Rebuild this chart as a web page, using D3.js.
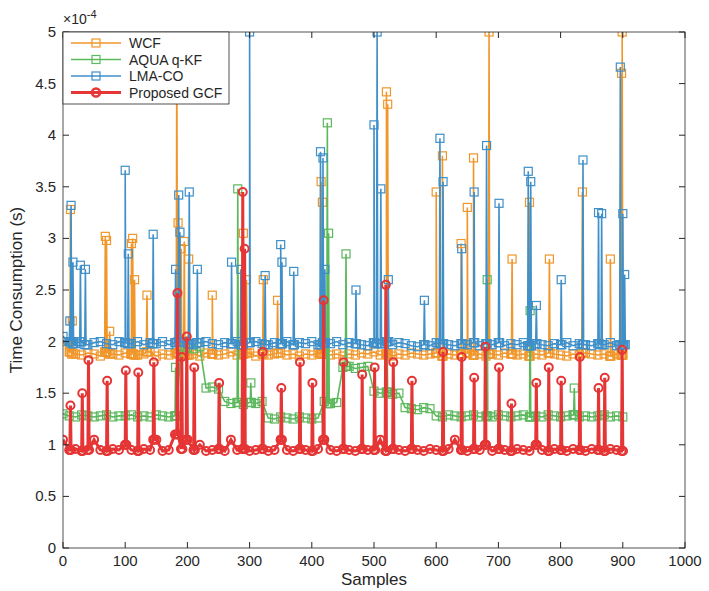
<!DOCTYPE html>
<html><head><meta charset="utf-8">
<script src="https://cdn.jsdelivr.net/npm/d3@7"></script>
<style>body{margin:0;background:#fff;font-family:"Liberation Sans",Arial,sans-serif}</style>
</head><body>
<script>
// baselines sampled every 10 samples (0..900), values in 1e-4 s
var wcfBase = [2.0,1.9,1.88,1.87,1.89,1.88,1.86,1.9,1.88,1.87,1.89,1.88,1.87,1.88,1.9,1.86,1.88,1.87,1.89,1.88,1.87,1.88,1.86,1.89,1.88,1.87,1.88,1.9,1.87,1.88,1.89,1.86,1.88,1.87,1.88,1.89,1.87,1.88,1.86,1.88,1.87,1.89,1.88,1.87,1.88,1.86,1.88,1.87,1.89,1.88,1.9,1.87,1.88,1.86,1.88,1.87,1.89,1.88,1.87,1.88,1.89,1.86,1.88,1.87,1.88,1.89,1.87,1.88,1.86,1.88,1.87,1.89,1.88,1.87,1.88,1.86,1.88,1.87,1.89,1.88,1.87,1.86,1.88,1.87,1.89,1.88,1.87,1.88,1.86,1.88,1.87];
var aquaBase = [1.3,1.28,1.27,1.29,1.28,1.27,1.28,1.29,1.27,1.28,1.28,1.29,1.27,1.28,1.27,1.29,1.28,1.27,1.28,1.95,1.94,1.93,1.95,1.55,1.56,1.54,1.42,1.4,1.41,1.39,1.41,1.4,1.42,1.26,1.25,1.27,1.26,1.25,1.27,1.26,1.25,1.26,1.42,1.4,1.41,1.75,1.76,1.74,1.75,1.76,1.52,1.5,1.51,1.49,1.5,1.36,1.35,1.34,1.36,1.35,1.28,1.27,1.29,1.28,1.27,1.28,1.29,1.27,1.28,1.27,1.29,1.28,1.27,1.28,1.29,1.27,1.28,1.27,1.29,1.28,1.27,1.28,1.29,1.27,1.28,1.27,1.28,1.29,1.27,1.28,1.27];
var lmaBase = [2.05,2.0,1.98,2.0,1.97,1.99,2.0,1.98,1.97,2.0,1.99,1.98,2.0,1.97,1.99,1.98,2.0,1.97,1.99,2.0,1.98,1.97,1.99,2.0,1.98,1.97,1.99,1.98,2.0,1.97,1.99,2.0,1.98,1.97,1.99,1.98,2.0,1.97,1.99,1.98,2.0,1.97,1.99,1.98,2.0,1.97,1.99,1.98,1.97,1.96,1.99,1.98,2.0,1.97,1.99,1.98,1.96,1.95,1.97,1.96,1.99,1.98,1.97,1.96,1.98,1.97,1.99,1.96,1.98,1.97,1.99,1.96,1.98,1.97,1.99,1.96,1.98,1.97,1.96,1.98,1.97,1.99,1.96,1.98,1.97,1.96,1.98,1.97,1.99,1.96,1.97];
var gcfBase = [1.05,0.95,0.96,0.94,0.95,1.05,0.95,0.94,0.96,0.95,1.0,0.95,0.94,0.96,0.95,1.05,0.94,0.95,1.1,0.96,1.05,0.95,1.0,0.94,0.95,0.96,0.94,1.05,0.95,0.96,0.94,0.95,0.96,0.94,0.95,1.05,0.95,0.94,0.96,0.95,0.94,0.96,1.05,0.95,0.94,0.96,0.95,0.94,0.96,0.95,0.95,1.05,0.94,0.96,0.95,0.94,0.96,0.95,0.94,0.96,0.95,0.94,0.96,1.05,0.95,0.94,0.96,0.95,1.0,0.94,0.96,0.95,0.94,0.96,0.95,0.94,1.0,0.95,0.94,0.96,0.95,0.94,0.96,0.95,0.94,0.96,0.95,0.94,0.96,0.95,0.94];
// spikes: [sample, value]
var wcfSpikes = [[12,3.28],[15,2.2],[68,3.02],[70,2.98],[75,2.1],[110,2.95],[112,3.0],[115,2.6],[135,2.45],[183,5.0],[185,3.15],[190,2.9],[195,2.97],[202,2.8],[240,2.45],[290,3.05],[295,2.6],[322,2.6],[345,2.4],[415,3.55],[417,3.35],[520,4.42],[522,4.3],[600,3.45],[610,3.8],[640,2.95],[650,3.3],[660,3.78],[685,5.0],[722,2.8],[750,3.35],[782,2.8],[835,3.45],[880,2.8],[898,4.6],[899,5.0]];
var aquaSpikes = [[181,1.75],[281,3.48],[302,1.6],[425,4.12],[427,3.05],[455,2.85],[521,2.0],[682,2.6],[751,2.3],[822,1.55]];
var lmaSpikes = [[11,2.2],[13,3.32],[16,2.77],[28,2.74],[36,2.7],[100,3.66],[105,2.85],[145,3.04],[181,2.7],[186,3.42],[188,3.06],[203,3.45],[216,2.7],[271,2.77],[286,2.7],[300,5.0],[325,2.64],[350,2.94],[352,2.77],[371,2.68],[414,3.84],[418,3.78],[421,2.7],[471,2.5],[500,4.1],[505,5.0],[511,3.48],[523,2.6],[581,2.4],[606,3.97],[611,3.55],[641,2.9],[661,3.45],[681,3.9],[701,3.34],[748,3.65],[752,3.55],[761,2.35],[801,2.6],[836,3.76],[861,3.25],[866,3.24],[896,4.66],[900,3.24],[903,2.65]];
var gcfSpikes = [[12,1.38],[31,1.5],[41,1.82],[71,1.62],[101,1.72],[121,1.7],[146,1.8],[184,2.47],[191,1.85],[199,2.05],[211,1.75],[251,1.6],[289,3.45],[292,2.9],[321,1.9],[351,1.55],[381,1.8],[401,1.6],[419,2.4],[451,1.8],[481,1.68],[501,1.75],[519,2.55],[531,1.8],[561,1.62],[611,1.9],[641,1.85],[661,1.65],[679,1.95],[701,1.75],[721,1.4],[761,1.6],[781,1.75],[801,1.62],[831,1.85],[861,1.55],[871,1.65],[899,1.92]];
var names = ["WCF","AQUA q-KF","LMA-CO","Proposed GCF"];
var colors = ["#f0962a","#5cb85c","#3f8fc8","#e53535"];
var xTicks = d3.range(0,1001,100), yTicks = d3.range(0,5.01,0.5);

function build(base, spikes){
  var pts = base.map(function(v,i){return [i*10,v];});
  spikes.forEach(function(s){
    var b = base[Math.min(base.length-1, Math.round(s[0]/10))];
    pts.push([s[0]-1,b],[s[0],s[1]],[s[0]+1,b]);
  });
  return pts.sort(function(a,b){return a[0]-b[0];});
}
var series = [build(wcfBase,wcfSpikes),build(aquaBase,aquaSpikes),build(lmaBase,lmaSpikes),build(gcfBase,gcfSpikes)];

var W=709,H=591, m={l:63,t:32,r:24,b:43};
var svg=d3.select("body").append("svg").attr("width",W).attr("height",H);
var x=d3.scaleLinear().domain([0,1000]).range([m.l,W-m.r]);
var y=d3.scaleLinear().domain([0,5]).range([H-m.b,m.t]);
svg.append("defs").append("clipPath").attr("id","c").append("rect")
  .attr("x",m.l).attr("y",m.t).attr("width",W-m.r-m.l).attr("height",H-m.b-m.t);

var g=svg.append("g").attr("clip-path","url(#c)");
var line=d3.line().x(function(d){return x(d[0]);}).y(function(d){return y(d[1]);});
series.forEach(function(s,i){
  var red=i===3;
  g.append("path").datum(s).attr("d",line).attr("fill","none")
    .attr("stroke",colors[i]).attr("stroke-width",red?3:1.6);
  if(red){
    g.selectAll(null).data(s).enter().append("circle")
      .attr("cx",function(d){return x(d[0]);}).attr("cy",function(d){return y(d[1]);})
      .attr("r",4).attr("fill","none").attr("stroke",colors[i]).attr("stroke-width",2);
  } else {
    g.selectAll(null).data(s).enter().append("rect")
      .attr("x",function(d){return x(d[0])-4;}).attr("y",function(d){return y(d[1])-4;})
      .attr("width",8).attr("height",8).attr("fill","none").attr("stroke",colors[i]).attr("stroke-width",1.2);
  }
});

var ax=svg.append("g").attr("font-size",15).attr("fill","#262626");
svg.append("rect").attr("x",m.l).attr("y",m.t).attr("width",W-m.r-m.l).attr("height",H-m.b-m.t)
  .attr("fill","none").attr("stroke","#262626").attr("stroke-width",0.8);
xTicks.forEach(function(t){
  ax.append("line").attr("x1",x(t)).attr("x2",x(t)).attr("y1",H-m.b).attr("y2",H-m.b-6).attr("stroke","#262626");
  ax.append("line").attr("x1",x(t)).attr("x2",x(t)).attr("y1",m.t).attr("y2",m.t+6).attr("stroke","#262626");
  ax.append("text").attr("x",x(t)).attr("y",H-m.b+18).attr("text-anchor","middle").text(t);
});
yTicks.forEach(function(t){
  ax.append("line").attr("x1",m.l).attr("x2",m.l+6).attr("y1",y(t)).attr("y2",y(t)).attr("stroke","#262626");
  ax.append("line").attr("x1",W-m.r).attr("x2",W-m.r-6).attr("y1",y(t)).attr("y2",y(t)).attr("stroke","#262626");
  ax.append("text").attr("x",m.l-7).attr("y",y(t)+5).attr("text-anchor","end").text(d3.format("")(t));
});
ax.append("text").attr("x",m.l).attr("y",m.t-8).attr("font-size",14).html("×10<tspan dy='-6' font-size='11'>-4</tspan>");
ax.append("text").attr("x",(m.l+W-m.r)/2).attr("y",H-6).attr("text-anchor","middle").attr("font-size",17).text("Samples");
ax.append("text").attr("transform","translate(22,"+((m.t+H-m.b)/2)+") rotate(-90)").attr("text-anchor","middle").attr("font-size",17).text("Time Consumption (s)");

var lg=svg.append("g").attr("transform","translate("+m.l+","+m.t+")");
lg.append("rect").attr("width",166).attr("height",72).attr("fill","#fff").attr("stroke","#262626").attr("stroke-width",0.8);
names.forEach(function(n,i){
  var yy=11+i*16.5, red=i===3;
  lg.append("line").attr("x1",8).attr("x2",58).attr("y1",yy).attr("y2",yy).attr("stroke",colors[i]).attr("stroke-width",red?3:1.6);
  if(red) lg.append("circle").attr("cx",33).attr("cy",yy).attr("r",4).attr("fill","none").attr("stroke",colors[i]).attr("stroke-width",2.5);
  else lg.append("rect").attr("x",29).attr("y",yy-4).attr("width",8).attr("height",8).attr("fill","none").attr("stroke",colors[i]).attr("stroke-width",1.2);
  lg.append("text").attr("x",66).attr("y",yy+5).attr("font-size",14).attr("fill","#262626").text(n);
});
</script>
</body></html>
